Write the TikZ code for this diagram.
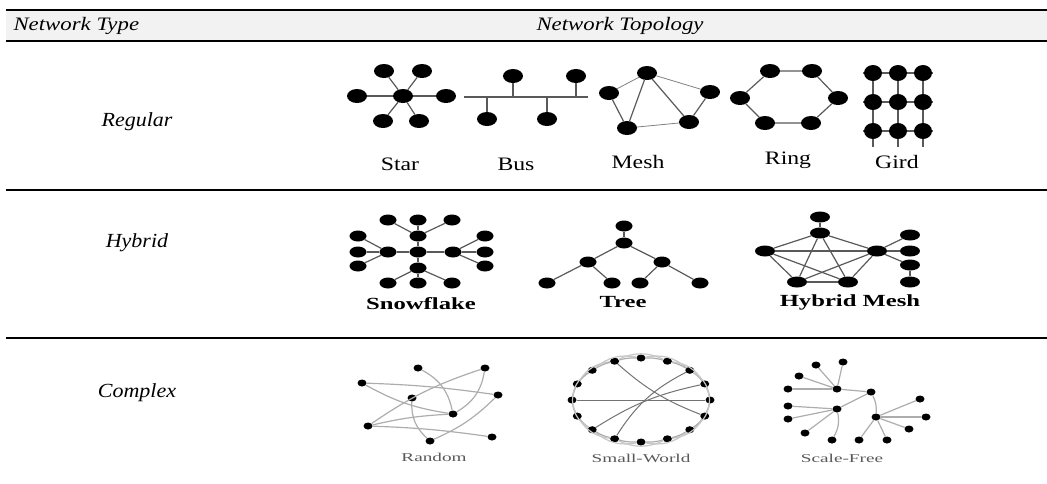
\documentclass[tikz,border=0pt]{standalone}
\usepackage{fontspec}
\setmainfont{Liberation Serif}
\newfontfamily\hdrfont[FakeStretch=1.2]{Liberation Serif}
\newfontfamily\rowfont[FakeStretch=1.1]{Liberation Serif}
\newfontfamily\labfont[FakeStretch=1.25]{Liberation Serif}
\newfontfamily\hyblabfont[FakeStretch=1.45]{Liberation Serif}
\newfontfamily\cpxfont[FakeStretch=1.6]{Liberation Serif}
\usetikzlibrary{shapes.geometric}
\begin{document}
\begin{tikzpicture}[x=1pt,y=-1pt,
  rule/.style={line width=1.7pt},
  bignode/.style={ellipse, fill=black, inner sep=0pt, minimum width=20pt, minimum height=14pt},
  gridnode/.style={ellipse, fill=black, inner sep=0pt, minimum width=18pt, minimum height=16pt},
  hybnode/.style={ellipse, fill=black, inner sep=0pt, minimum width=17pt, minimum height=11pt},
  tinynode/.style={ellipse, fill=black, inner sep=0pt, minimum width=9pt, minimum height=7pt},
  wire/.style={draw=black!65, line width=1.2pt},
  thinwire/.style={draw=black!50, line width=0.8pt},
  faint/.style={draw=black!32, line width=1.2pt},
  hdr/.style={font=\hdrfont\fontsize{19}{21}\selectfont\itshape},
  rowlab/.style={font=\rowfont\fontsize{20}{22}\selectfont\itshape},
  piclab/.style={font=\labfont\fontsize{19}{21}\selectfont},
  hyblab/.style={font=\hyblabfont\fontsize{17}{19}\selectfont\bfseries},
  cpxlab/.style={font=\cpxfont\fontsize{12}{14}\selectfont, text=black!65}]
\useasboundingbox (0,0) rectangle (1047,483);

% ---------- table frame ----------
\fill[black!5] (6,10) rectangle (1047,41);
\draw[rule] (6,10) -- (1047,10);
\draw[rule] (6,41) -- (1047,41);
\draw[rule] (6,190) -- (1047,190);
\draw[rule] (6,338) -- (1047,338);

\node[hdr, anchor=west] (hType) at (10,26) {Network Type};
\node[hdr] (hTopo) at (620,26) {Network Topology};

\node[rowlab] (rowReg) at (137,122) {Regular};
\node[rowlab] (rowHyb) at (137,243) {Hybrid};
\node[rowlab] (rowCpx) at (137,393) {Complex};

% ---------- Star ----------
\node[bignode] (sC) at (403,96) {};
\node[bignode] (sA) at (357,96) {};
\node[bignode] (sB) at (446,96) {};
\node[bignode] (sD) at (384,71) {};
\node[bignode] (sE) at (422,71) {};
\node[bignode] (sF) at (383,121) {};
\node[bignode] (sG) at (419,121) {};
\foreach \n in {sA,sB,sD,sE,sF,sG} \draw[wire] (sC) -- (\n);
\node[piclab] (labStar) at (400,164) {Star};

% ---------- Bus ----------
\coordinate (busL) at (464,97);
\coordinate (busR) at (588,97);
\draw[wire] (busL) -- (busR);
\foreach \i/\x/\y in {1/487/119, 2/513/76, 3/547/119, 4/576/76} {
  \coordinate (bT\i) at (\x,97);
  \node[bignode] (bN\i) at (\x,\y) {};
  \draw[wire] (bT\i) -- (bN\i);
}
\node[piclab] (labBus) at (516,164) {Bus};

% ---------- Mesh ----------
\node[bignode] (mT) at (647,73) {};
\node[bignode] (mL) at (609,93) {};
\node[bignode] (mR) at (710,92) {};
\node[bignode] (mBL) at (627,128) {};
\node[bignode] (mBR) at (689,122) {};
\draw[thinwire] (mL) -- (mT);
\draw[thinwire] (mT) -- (mR);
\draw[thinwire] (mBL) -- (mBR);
\draw[wire] (mT) -- (mBL);
\draw[wire] (mT) -- (mBR);
\draw[wire] (mL) -- (mBL);
\draw[wire] (mBR) -- (mR);
\node[piclab] (labMesh) at (638,162) {Mesh};

% ---------- Ring ----------
\node[bignode] (rA) at (770,71) {};
\node[bignode] (rB) at (812,71) {};
\node[bignode] (rC) at (838,98) {};
\node[bignode] (rD) at (811,123) {};
\node[bignode] (rE) at (765,123) {};
\node[bignode] (rF) at (740,98) {};
\draw[wire] (rA) -- (rB) -- (rC) -- (rD) -- (rE) -- (rF) -- (rA);
\node[piclab] (labRing) at (788,160) {Ring};

% ---------- Grid ----------
\foreach \c/\x in {1/873, 2/898, 3/923} {
  \coordinate (gTop\c) at (\x,66);
  \coordinate (gBot\c) at (\x,147);
}
\foreach \r/\y in {1/73, 2/102, 3/131} {
  \coordinate (gLft\r) at (863,\y);
  \coordinate (gRgt\r) at (933,\y);
}
\foreach \c in {1,2,3} \draw[wire] (gTop\c) -- (gBot\c);
\foreach \r in {1,2,3} \draw[wire] (gLft\r) -- (gRgt\r);
\foreach \r/\y in {1/73, 2/102, 3/131}
  \foreach \c/\x in {1/873, 2/898, 3/923}
    \node[gridnode] (g\r\c) at (\x,\y) {};
\node[piclab] (labGrid) at (897,162) {Gird};

% ---------- Snowflake ----------
\node[hybnode] (fC) at (418,252) {};
\node[hybnode] (fU) at (418,236) {};
\node[hybnode] (fD) at (418,268) {};
\node[hybnode] (fL) at (388,252) {};
\node[hybnode] (fR) at (453,252) {};
\node[hybnode] (fU1) at (388,220) {};
\node[hybnode] (fU2) at (418,220) {};
\node[hybnode] (fU3) at (452,220) {};
\node[hybnode] (fD1) at (388,283) {};
\node[hybnode] (fD2) at (418,283) {};
\node[hybnode] (fD3) at (452,283) {};
\node[hybnode] (fL1) at (358,236) {};
\node[hybnode] (fL2) at (358,252) {};
\node[hybnode] (fL3) at (358,266) {};
\node[hybnode] (fR1) at (485,236) {};
\node[hybnode] (fR2) at (485,252) {};
\node[hybnode] (fR3) at (485,266) {};
\draw[wire] (fU2) -- (fU) -- (fC) -- (fD) -- (fD2);
\draw[wire] (fL) -- (fC) -- (fR);
\foreach \n in {fU1,fU3} \draw[wire] (fU) -- (\n);
\foreach \n in {fD1,fD3} \draw[wire] (fD) -- (\n);
\foreach \n in {fL1,fL2,fL3} \draw[wire] (fL) -- (\n);
\foreach \n in {fR1,fR2,fR3} \draw[wire] (fR) -- (\n);
\node[hyblab] (labSnow) at (421,304) {Snowflake};

% ---------- Tree ----------
\node[hybnode] (tR) at (624,226) {};
\node[hybnode] (tS) at (624,243) {};
\node[hybnode] (tML) at (588,262) {};
\node[hybnode] (tMR) at (662,262) {};
\node[hybnode] (tL1) at (547,283) {};
\node[hybnode] (tL2) at (612,283) {};
\node[hybnode] (tL3) at (640,283) {};
\node[hybnode] (tL4) at (700,283) {};
\draw[wire] (tR) -- (tS);
\draw[wire] (tS) -- (tML);
\draw[wire] (tS) -- (tMR);
\draw[wire] (tML) -- (tL1);
\draw[wire] (tML) -- (tL2);
\draw[wire] (tMR) -- (tL3);
\draw[wire] (tMR) -- (tL4);
\node[hyblab] (labTree) at (623,302) {Tree};

% ---------- Hybrid Mesh ----------
\node[hybnode, minimum width=20pt] (hTop) at (820,217) {};
\node[hybnode, minimum width=20pt] (hP1) at (820,233) {};
\node[hybnode, minimum width=20pt] (hP2) at (765,251) {};
\node[hybnode, minimum width=20pt] (hP3) at (877,251) {};
\node[hybnode, minimum width=20pt] (hP4) at (797,282) {};
\node[hybnode, minimum width=20pt] (hP5) at (848,282) {};
\node[hybnode, minimum width=20pt] (hQ1) at (910,235) {};
\node[hybnode, minimum width=20pt] (hQ2) at (910,251) {};
\node[hybnode, minimum width=20pt] (hQ3) at (910,265) {};
\node[hybnode, minimum width=20pt] (hQ4) at (910,282) {};
\draw[wire] (hTop) -- (hP1);
\foreach \a/\b in {hP1/hP2, hP1/hP3, hP1/hP4, hP1/hP5, hP2/hP3, hP2/hP4,
                   hP2/hP5, hP3/hP4, hP3/hP5, hP4/hP5}
  \draw[wire] (\a) -- (\b);
\foreach \n in {hQ1,hQ2,hQ3} \draw[wire] (hP3) -- (\n);
\draw[wire] (hQ3) -- (hQ4);
\node[hyblab] (labHMesh) at (850,302) {Hybrid Mesh};

% ---------- Random ----------
\node[tinynode] (xA) at (418,368) {};
\node[tinynode] (xB) at (485,368) {};
\node[tinynode] (xC) at (362,383) {};
\node[tinynode] (xD) at (498,395) {};
\node[tinynode] (xE) at (412,398) {};
\node[tinynode] (xF) at (453,414) {};
\node[tinynode] (xG) at (368,426) {};
\node[tinynode] (xH) at (492,437) {};
\node[tinynode] (xI) at (430,441) {};
\draw[faint] (xC) to[bend left=3] (xD);
\draw[faint] (xC) to[bend right=10] (xF);
\draw[faint] (xA) to[bend left=25] (xF);
\draw[faint] (xB) to[bend right=8] (xG);
\draw[faint] (xB) to[bend left=25] (xF);
\draw[faint] (xE) to[bend right=25] (xI);
\draw[faint] (xG) to[bend left=3] (xH);
\draw[faint] (xG) to[bend left=5] (xF);
\draw[faint] (xI) to[bend right=10] (xD);
\node[cpxlab] (labRand) at (434,457) {Random};

% ---------- Small-World ----------
\foreach \k in {0,...,15} {
  \pgfmathsetmacro{\ang}{90-22.5*\k}
  \node[tinynode] (w\k) at ({641+69*cos(\ang)},{400-42*sin(\ang)}) {};
}
\foreach \k in {0,...,15} {
  \pgfmathtruncatemacro{\nx}{mod(\k+1,16)}
  \pgfmathtruncatemacro{\nn}{mod(\k+2,16)}
  \draw[faint] (w\k) to[bend left=8] (w\nx);
  \draw[faint, draw=black!22] (w\k) to[bend left=25] (w\nn);
}
\draw[draw=black!55, line width=1pt] (w12) -- (w4);
\draw[draw=black!55, line width=1pt] (w15) to[bend right=10] (w5);
\draw[draw=black!55, line width=1pt] (w9) to[bend left=15] (w2);
\draw[draw=black!55, line width=1pt] (w10) to[bend left=10] (w3);
\node[cpxlab] (labSW) at (641,458) {Small-World};

% ---------- Scale-Free ----------
\node[tinynode] (zH1) at (837,389) {};
\node[tinynode] (zH2) at (837,409) {};
\node[tinynode] (zM) at (871,392) {};
\node[tinynode] (zH3) at (876,417) {};
\node[tinynode] (zA1) at (816,365) {};
\node[tinynode] (zA2) at (843,362) {};
\node[tinynode] (zA3) at (799,376) {};
\node[tinynode] (zA4) at (788,389) {};
\node[tinynode] (zB1) at (788,406) {};
\node[tinynode] (zB2) at (788,419) {};
\node[tinynode] (zB3) at (805,433) {};
\node[tinynode] (zB4) at (832,440) {};
\node[tinynode] (zC1) at (920,399) {};
\node[tinynode] (zC2) at (926,417) {};
\node[tinynode] (zC3) at (909,429) {};
\node[tinynode] (zC4) at (887,440) {};
\node[tinynode] (zC5) at (859,440) {};
\foreach \n in {zA1,zA2,zA3,zA4} \draw[faint] (zH1) -- (\n);
\foreach \n in {zB1,zB2,zB3} \draw[faint] (zH2) -- (\n);
\draw[faint] (zH2) to[bend left=20] (zB4);
\draw[faint] (zH1) -- (zM);
\draw[faint] (zM) -- (zH2);
\draw[faint] (zM) to[bend left=15] (zH3);
\foreach \n in {zC1,zC2,zC3,zC4,zC5} \draw[faint] (zH3) -- (\n);
\node[cpxlab] (labSF) at (842,458) {Scale-Free};
\end{tikzpicture}
\end{document}
